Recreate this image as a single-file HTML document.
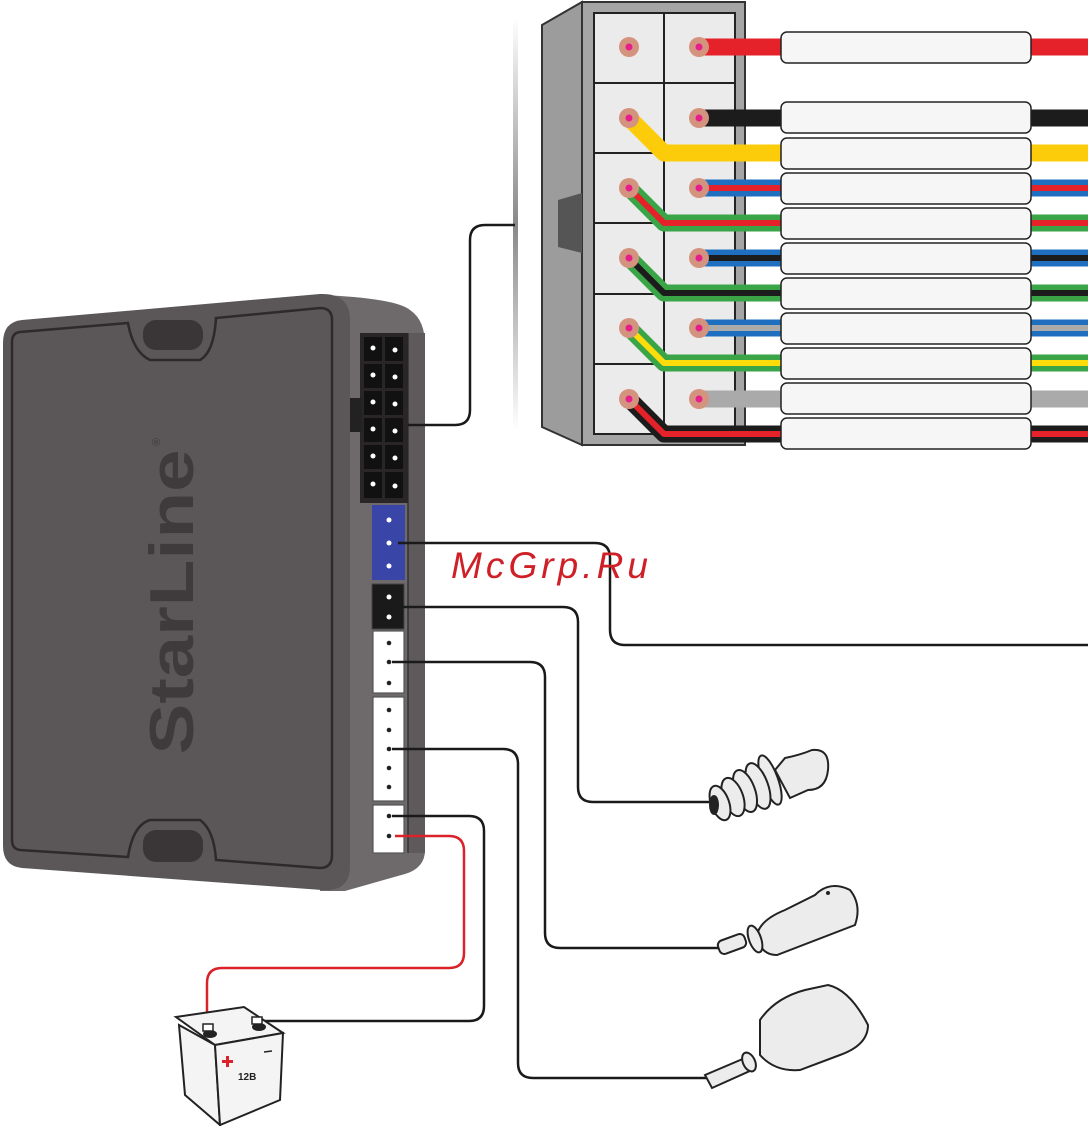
<!DOCTYPE html>
<html><head><meta charset="utf-8"><style>html,body{margin:0;padding:0;background:#fff}svg{display:block}</style></head><body>
<svg width="1088" height="1126" viewBox="0 0 1088 1126" xmlns="http://www.w3.org/2000/svg">
<defs>
<linearGradient id="vg" x1="0" y1="0" x2="0" y2="1"><stop offset="0" stop-color="#fff"/><stop offset=".5" stop-color="#888"/><stop offset="1" stop-color="#fff"/></linearGradient>
</defs>
<rect x="513" y="18" width="5" height="412" fill="url(#vg)"/>
<polygon points="542,25 582,2 582,445 542,427" fill="#9c9c9c" stroke="#333" stroke-width="2"/>
<rect x="582" y="2" width="163" height="443" fill="#a5a5a5" stroke="#333" stroke-width="2"/>
<polygon points="558,200 582,193 582,253 558,247" fill="#555"/>
<rect x="594" y="13" width="141" height="421" fill="#ebebeb" stroke="#222" stroke-width="2"/>
<line x1="664" y1="13" x2="664" y2="434" stroke="#222" stroke-width="2"/>
<g stroke="#222" stroke-width="2">
<line x1="594" y1="83" x2="735" y2="83"/><line x1="594" y1="153" x2="664" y2="153"/><line x1="594" y1="223" x2="664" y2="223"/><line x1="594" y1="294" x2="664" y2="294"/><line x1="594" y1="364" x2="664" y2="364"/>
</g>
<g fill="none" stroke-linejoin="round">
<line x1="699" y1="47" x2="1088" y2="47" stroke="#e52229" stroke-width="17"/>
<line x1="699" y1="118" x2="1088" y2="118" stroke="#1c1c1c" stroke-width="17"/>
<polyline points="629,118 664,153 1088,153" stroke="#fccc0a" stroke-width="17"/>
<line x1="699" y1="188" x2="1088" y2="188" stroke="#1f6fc1" stroke-width="17"/>
<line x1="699" y1="188" x2="1088" y2="188" stroke="#e52229" stroke-width="6"/>
<polyline points="629,188 664,223 1088,223" stroke="#3aa547" stroke-width="17"/>
<polyline points="629,188 664,223 1088,223" stroke="#e52229" stroke-width="6"/>
<line x1="699" y1="258" x2="1088" y2="258" stroke="#1f6fc1" stroke-width="17"/>
<line x1="699" y1="258" x2="1088" y2="258" stroke="#1c1c1c" stroke-width="6"/>
<polyline points="629,258 664,293 1088,293" stroke="#3aa547" stroke-width="17"/>
<polyline points="629,258 664,293 1088,293" stroke="#1c1c1c" stroke-width="6"/>
<line x1="699" y1="328" x2="1088" y2="328" stroke="#1f6fc1" stroke-width="17"/>
<line x1="699" y1="328" x2="1088" y2="328" stroke="#aaa" stroke-width="6"/>
<polyline points="629,328 664,363 1088,363" stroke="#3aa547" stroke-width="17"/>
<polyline points="629,328 664,363 1088,363" stroke="#fcdc0a" stroke-width="6"/>
<line x1="699" y1="399" x2="1088" y2="399" stroke="#aaa" stroke-width="17"/>
<polyline points="629,399 664,434 1088,434" stroke="#1c1c1c" stroke-width="17"/>
<polyline points="629,399 664,434 1088,434" stroke="#e52229" stroke-width="6"/>
</g>
<g fill="#d4937e"><circle cx="629" cy="47" r="10"/><circle cx="699" cy="47" r="10"/><circle cx="629" cy="118" r="10"/><circle cx="699" cy="118" r="10"/><circle cx="629" cy="188" r="10"/><circle cx="699" cy="188" r="10"/><circle cx="629" cy="258" r="10"/><circle cx="699" cy="258" r="10"/><circle cx="629" cy="328" r="10"/><circle cx="699" cy="328" r="10"/><circle cx="629" cy="399" r="10"/><circle cx="699" cy="399" r="10"/></g>
<g fill="#e61e8c"><circle cx="629" cy="47" r="3.5"/><circle cx="699" cy="47" r="3.5"/><circle cx="629" cy="118" r="3.5"/><circle cx="699" cy="118" r="3.5"/><circle cx="629" cy="188" r="3.5"/><circle cx="699" cy="188" r="3.5"/><circle cx="629" cy="258" r="3.5"/><circle cx="699" cy="258" r="3.5"/><circle cx="629" cy="328" r="3.5"/><circle cx="699" cy="328" r="3.5"/><circle cx="629" cy="399" r="3.5"/><circle cx="699" cy="399" r="3.5"/></g>
<g fill="#f6f6f6" stroke="#222" stroke-width="1.5">
<rect x="781" y="32" width="250" height="31" rx="6"/>
<rect x="781" y="102" width="250" height="31" rx="6"/>
<rect x="781" y="138" width="250" height="31" rx="6"/>
<rect x="781" y="173" width="250" height="31" rx="6"/>
<rect x="781" y="208" width="250" height="31" rx="6"/>
<rect x="781" y="243" width="250" height="31" rx="6"/>
<rect x="781" y="278" width="250" height="31" rx="6"/>
<rect x="781" y="313" width="250" height="31" rx="6"/>
<rect x="781" y="348" width="250" height="31" rx="6"/>
<rect x="781" y="383" width="250" height="31" rx="6"/>
<rect x="781" y="418" width="250" height="31" rx="6"/>
</g>
<!-- module -->
<path d="M320,295 Q395,298 410,310 Q425,320 425,345 L425,850 Q425,868 405,874 L345,891 L320,891 Z" fill="#6e6a6b"/>
<path d="M22,320 L320,294 Q350,293 350,320 L350,866 Q350,892 322,890 L22,868 Q3,866 3,846 L3,343 Q3,322 22,320 Z" fill="#5b5758"/>
<path d="M20,332 L128,323 Q133,352 150,360 L200,360 Q214,352 216,318 L320,308 Q332,308 332,320 L332,855 Q332,868 320,868 L216,860 Q214,830 200,820 L150,820 Q133,825 128,857 L20,850 Q12,849 12,840 L12,342 Q12,333 20,332 Z" fill="none" stroke="#2e2a2b" stroke-width="2.5"/>
<rect x="143" y="320" width="60" height="30" rx="13" fill="#3a3536"/>
<rect x="143" y="830" width="60" height="32" rx="13" fill="#3a3536"/>
<text transform="translate(193,602) rotate(-90)" text-anchor="middle" font-family="Liberation Sans, sans-serif" font-weight="bold" font-size="62" fill="#3f3b3c" textLength="305" lengthAdjust="spacingAndGlyphs">StarLine</text>
<text transform="translate(160,442) rotate(-90)" text-anchor="middle" font-family="Liberation Sans, sans-serif" font-size="11" fill="#3f3b3c">®</text>
<rect x="408" y="333" width="17" height="520" fill="#5e5a5b"/>
<line x1="408" y1="333" x2="408" y2="853" stroke="#333" stroke-width="1.5"/>
<rect x="360" y="333" width="48" height="170" fill="#2a2627"/>
<rect x="350" y="398" width="12" height="34" fill="#222"/>
<g fill="#111">
<rect x="364" y="337" width="18" height="24"/><rect x="385" y="337" width="18" height="24"/>
<rect x="364" y="364" width="18" height="24"/><rect x="385" y="364" width="18" height="24"/>
<rect x="364" y="391" width="18" height="24"/><rect x="385" y="391" width="18" height="24"/>
<rect x="364" y="418" width="18" height="24"/><rect x="385" y="418" width="18" height="24"/>
<rect x="364" y="445" width="18" height="24"/><rect x="385" y="445" width="18" height="24"/>
<rect x="364" y="472" width="18" height="26"/><rect x="385" y="472" width="18" height="26"/>
</g>
<g fill="#fff">
<circle cx="373" cy="348" r="2.5"/><circle cx="395" cy="350" r="2.5"/>
<circle cx="373" cy="375" r="2.5"/><circle cx="395" cy="377" r="2.5"/>
<circle cx="373" cy="402" r="2.5"/><circle cx="395" cy="404" r="2.5"/>
<circle cx="373" cy="429" r="2.5"/><circle cx="395" cy="431" r="2.5"/>
<circle cx="373" cy="456" r="2.5"/><circle cx="395" cy="458" r="2.5"/>
<circle cx="373" cy="484" r="2.5"/><circle cx="395" cy="486" r="2.5"/>
</g>
<rect x="372" y="505" width="33" height="75" fill="#3a45a8"/>
<g fill="#fff"><circle cx="389" cy="520" r="2.5"/><circle cx="389" cy="543" r="2.5"/><circle cx="389" cy="566" r="2.5"/></g>
<rect x="372" y="584" width="32" height="45" fill="#1a1a1a" stroke="#444"/>
<g fill="#fff"><circle cx="389" cy="597" r="2.5"/><circle cx="389" cy="617" r="2.5"/></g>
<g fill="#fff" stroke="#555" stroke-width="1.2">
<rect x="373" y="631" width="31" height="62"/><rect x="373" y="697" width="31" height="104"/><rect x="373" y="805" width="31" height="48"/>
</g>
<g fill="#222"><circle cx="389" cy="643" r="2.3"/><circle cx="389" cy="662" r="2.3"/><circle cx="389" cy="683" r="2.3"/><circle cx="389" cy="710" r="2.3"/><circle cx="389" cy="730" r="2.3"/><circle cx="389" cy="749" r="2.3"/><circle cx="389" cy="768" r="2.3"/><circle cx="389" cy="787" r="2.3"/><circle cx="389" cy="816" r="2.3"/><circle cx="389" cy="836" r="2.3"/></g>
<g fill="none" stroke="#1a1a1a" stroke-width="2.5">
<path d="M408,425 H455 Q470,425 470,410 V240 Q470,225 485,225 H515"/>
<path d="M398,543 H595 Q610,543 610,558 V630 Q610,645 625,645 H1088"/>
<path d="M398,607 H563 Q578,607 578,622 V787 Q578,802 593,802 H712"/>
<path d="M392,662 H530 Q545,662 545,677 V933 Q545,948 560,948 H718"/>
<path d="M392,749 H503 Q518,749 518,764 V1063 Q518,1078 533,1078 H712"/>
<path d="M392,816 H469 Q484,816 484,831 V1006 Q484,1021 469,1021 H262"/>
</g>
<path d="M395,836 H449 Q464,836 464,851 V953 Q464,968 449,968 H222 Q207,968 207,983 V1028" fill="none" stroke="#d9222a" stroke-width="2.5"/>
<polygon points="176,1017 244,1007 283,1033 215,1045" fill="#f4f4f4" stroke="#222" stroke-width="2"/>
<polygon points="179,1025 215,1045 220,1125 185,1095" fill="#f4f4f4" stroke="#222" stroke-width="2"/>
<polygon points="215,1045 283,1033 280,1100 220,1125" fill="#f4f4f4" stroke="#222" stroke-width="2"/>
<ellipse cx="210" cy="1034" rx="7" ry="4" fill="#222"/><ellipse cx="259" cy="1027" rx="7" ry="4" fill="#222"/>
<rect x="203" y="1024" width="10" height="7" fill="#fff" stroke="#222" stroke-width="1.5"/><rect x="252" y="1017" width="10" height="7" fill="#fff" stroke="#222" stroke-width="1.5"/>
<path d="M226,1056 h3 v4 h4 v3 h-4 v4 h-3 v-4 h-4 v-3 h4 z" fill="#d9222a"/>
<line x1="264" y1="1052" x2="272" y2="1051" stroke="#222" stroke-width="1.5"/>
<text x="238" y="1080" font-family="Liberation Sans, sans-serif" font-size="10" font-weight="bold" fill="#222">12В</text>
<!-- lamp -->
<g stroke="#222" stroke-width="2" fill="#ececec">
<path d="M775,770 L785,758 Q800,755 812,750 Q830,748 828,770 Q826,790 808,790 L790,798 Z"/>
<ellipse cx="770" cy="780" rx="8" ry="26" transform="rotate(-20 770 780)"/>
<ellipse cx="758" cy="786" rx="10" ry="24" transform="rotate(-20 758 786)"/>
<ellipse cx="745" cy="791" rx="10" ry="22" transform="rotate(-20 745 791)"/>
<ellipse cx="733" cy="797" rx="10" ry="20" transform="rotate(-20 733 797)"/>
<ellipse cx="720" cy="803" rx="9" ry="18" transform="rotate(-20 720 803)"/>
<ellipse cx="714" cy="805" rx="4" ry="9" fill="#222"/>
</g>
<g stroke="#222" stroke-width="2" fill="#ececec">
<path d="M757,935 Q760,920 785,910 L815,895 Q830,880 850,890 Q862,905 855,925 L777,955 Q760,955 757,935 Z"/>
<rect x="718" y="937" width="28" height="14" rx="5" transform="rotate(-20 732 944)"/>
<ellipse cx="755" cy="939" rx="6" ry="14" transform="rotate(-20 755 939)"/>
</g>
<circle cx="828" cy="893" r="2" fill="#222"/>
<g stroke="#222" stroke-width="2" fill="#ececec">
<path d="M760,1020 Q775,998 805,990 L828,985 Q850,990 868,1025 Q868,1045 840,1055 L800,1070 Q775,1072 760,1055 Z"/>
<path d="M705,1075 L745,1058 L752,1070 L712,1088 Z"/>
<ellipse cx="749" cy="1062" rx="6" ry="10" transform="rotate(-25 749 1062)"/>
</g>
<text x="451" y="578" font-family="Liberation Sans, sans-serif" font-style="italic" font-size="37" fill="#cf2027" textLength="197" lengthAdjust="spacing">McGrp.Ru</text>
</svg>
</body></html>
